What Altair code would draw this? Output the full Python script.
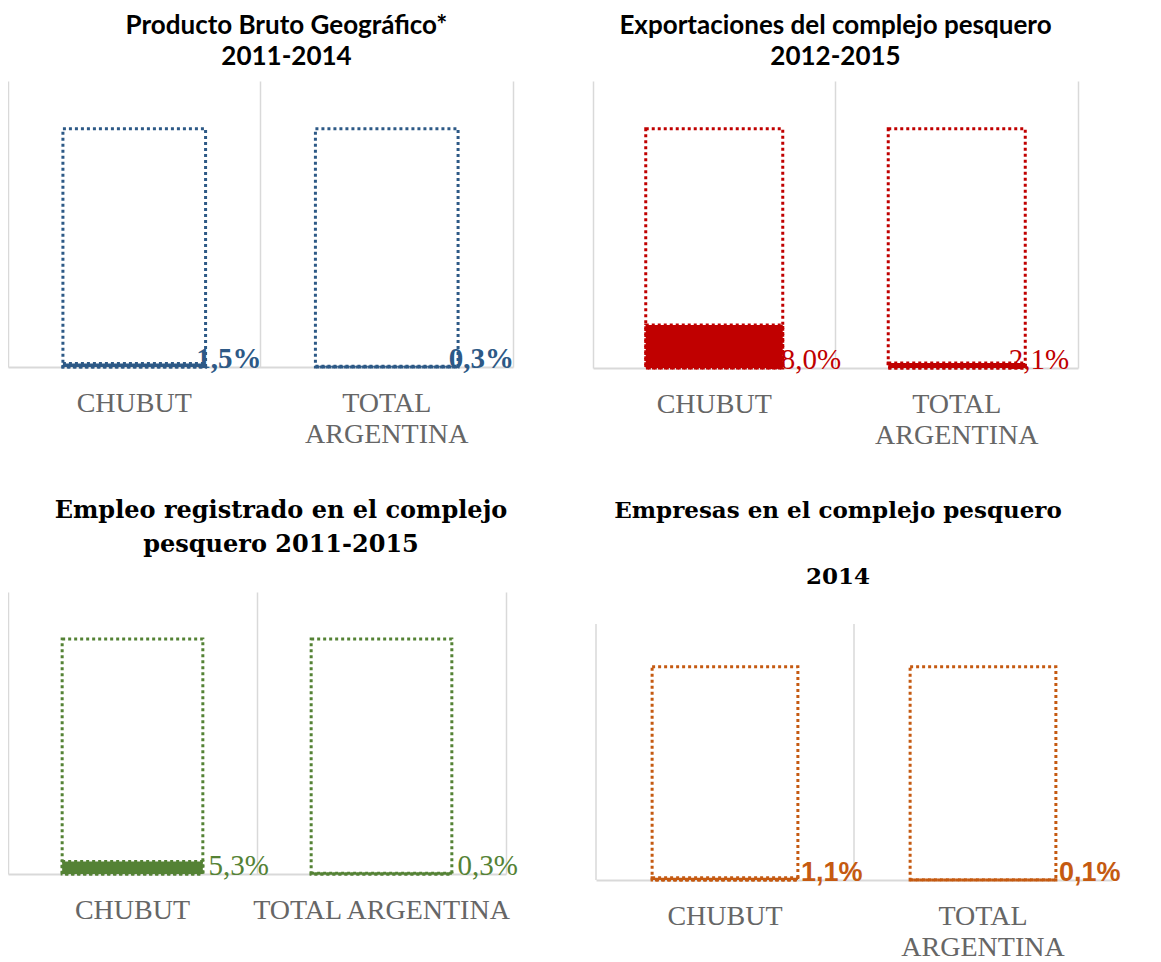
import altair as alt
import pandas as pd

categories = ["CHUBUT", "TOTAL ARGENTINA"]
total = [100, 100]

pbg_values = [1.5, 0.3]
export_values = [18.0, 2.1]
empleo_values = [5.3, 0.3]
empresas_values = [1.1, 0.1]

titles = [
    ["Producto Bruto Geográfico*", "2011-2014"],
    ["Exportaciones del complejo pesquero", "2012-2015"],
    ["Empleo registrado en el complejo", "pesquero 2011-2015"],
    ["Empresas en el complejo pesquero", "2014"],
]
colors = ["#2D5986", "#C00000", "#548235", "#C55A11"]

GRID = "#D9D9D9"


def fmt(v):
    return f"{v:.1f}".replace(".", ",") + "%"


def panel(title, values, color, width, height, ymax, title_font, title_size,
          label_font, label_weight, label_size, dx, wrap, title_dx, title_offset,
          right_line=True, title_lh=31, grid_top=None):
    df = pd.DataFrame({
        "cat": categories,
        "total": total,
        "value": values,
        "label": [fmt(v) for v in values],
    })
    label_expr = "split(datum.label, ' ')" if wrap else "datum.label"
    xscale = alt.Scale(paddingInner=0, paddingOuter=0)
    x = alt.X(
        "cat:N", sort=categories, title=None, scale=xscale,
        axis=alt.Axis(
            labelAngle=0, labelFont="Liberation Serif", labelFontSize=28,
            labelColor="#666666", labelPadding=22, labelLineHeight=31,
            labelLimit=0, labelOverlap=False,
            labelExpr=label_expr, ticks=False, grid=grid_top is None,
            bandPosition=0,
            gridColor=GRID, gridWidth=1.5, domainColor=GRID, domainWidth=2,
        ),
    )
    yscale = alt.Scale(domain=[0, ymax], nice=False)
    yaxis = alt.Axis(labels=False, ticks=False, grid=False, domain=right_line,
                     domainColor=GRID, domainWidth=1.5, orient="right", title=None)
    base = alt.Chart(df)
    filled = base.mark_bar(
        width={"band": 0.565}, color=color, stroke=color, strokeWidth=3,
        strokeDash=[3, 3]
    ).encode(x=x, y=alt.Y("value:Q", scale=yscale, axis=yaxis))
    outline = base.mark_bar(
        width={"band": 0.565}, fillOpacity=0, stroke=color, strokeWidth=3,
        strokeDash=[3, 3]
    ).encode(x=x, y=alt.Y("total:Q", scale=yscale, axis=yaxis))
    text = base.mark_text(
        align="left", baseline="alphabetic", dx=dx, dy=1, font=label_font,
        fontWeight=label_weight, fontSize=label_size, color=color
    ).encode(x=x, y=alt.datum(0, scale=yscale), text="label:N")
    main = alt.layer(filled, outline, text)
    if grid_top is not None:
        rules = base.mark_rule(color=GRID, strokeWidth=1.5).encode(
            x=alt.X("cat:N", sort=categories, title=None, scale=xscale,
                    bandPosition=0, axis=None),
            y=alt.datum(0, scale=yscale),
            y2=alt.datum(grid_top),
        )
        main = alt.layer(rules, main).resolve_scale(x="independent")
    return main.properties(
        width=width, height=height,
        title=alt.TitleParams(
            text=title, font=title_font, fontSize=title_size, fontWeight="bold",
            color="#000000", anchor="middle", offset=title_offset,
            lineHeight=title_lh, dx=title_dx,
        ),
    )


p1 = panel(titles[0], pbg_values, colors[0], 505, 286, 120, "Lato", 26,
           "Liberation Serif", "bold", 29, 62, True, 26, 11)
p2 = panel(titles[1], export_values, colors[1], 485, 287, 120, "Lato", 26,
           "Liberation Serif", "normal", 29, 52, True, 0, 11)
p3 = panel(titles[2], empleo_values, colors[2], 498, 282, 120, "DejaVu Serif", 24,
           "Liberation Serif", "normal", 29, 76, False, 24, 35, title_lh=34)
p4 = panel(titles[3], empresas_values, colors[3], 516, 288, 135, "DejaVu Serif", 23,
           "Liberation Sans", "bold", 27, 76, True, -16, 3, right_line=False,
           title_lh=66, grid_top=120)

top = alt.hconcat(p1, p2, spacing=79)
bottom = alt.hconcat(p3, p4, spacing=77)
chart = alt.vconcat(top, bottom, spacing=50).properties(
    padding={"left": 0, "top": 5, "right": 0, "bottom": 0},
    background="white",
).configure_view(stroke=None, strokeWidth=0)

chart.save("out.html", embed_options={"renderer": "svg", "actions": False})
